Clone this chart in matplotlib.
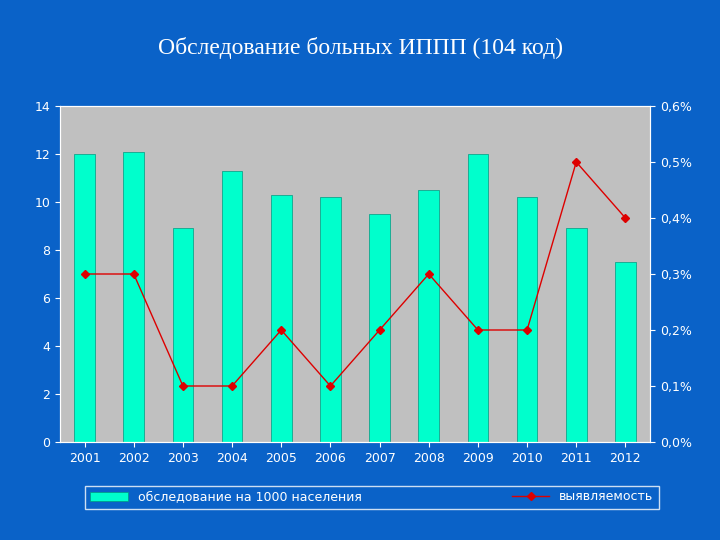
import matplotlib
matplotlib.use("Agg")
import matplotlib.pyplot as plt
from matplotlib.ticker import FuncFormatter

years = ["2001","2002","2003","2004","2005","2006","2007","2008","2009","2010","2011","2012"]
exam = [12.0,12.1,8.9,11.3,10.3,10.2,9.5,10.5,12.0,10.2,8.9,7.5]
detect = [0.3,0.3,0.1,0.1,0.2,0.1,0.2,0.3,0.2,0.2,0.5,0.4]

bg = "#0a62c8"
fig = plt.figure(figsize=(7.2,5.4), dpi=100, facecolor=bg)
ax = fig.add_axes([60/720, 1-442/540, 590/720, 336/540])
ax.set_facecolor("#c0c0c0")
x = range(len(years))
ax.bar(x, exam, width=0.42, color="#00ffcc", edgecolor="#009980", linewidth=0.5, zorder=2, label="обследование на 1000 населения")
ax.set_ylim(0,14); ax.set_xlim(-0.5,11.5)
ax.set_yticks(range(0,15,2))
ax.set_xticks(list(x)); ax.set_xticklabels(years)
for s in ax.spines.values(): s.set_color("white")
ax.tick_params(colors="white", labelsize=9)
ax2 = ax.twinx()
ax2.plot(x, detect, color="#dd0000", marker="D", markersize=4, linewidth=1, zorder=3, label="выявляемость")
ax2.set_ylim(0,0.6); ax2.set_yticks([0,0.1,0.2,0.3,0.4,0.5,0.6])
ax2.yaxis.set_major_formatter(FuncFormatter(lambda v,p: f"{v:.1f}%".replace(".",",")))
ax2.tick_params(colors="white", labelsize=9)
for s in ax2.spines.values(): s.set_color("white")
fig.text(0.5, 1-48/540, "Обследование больных ИППП (104 код)", ha="center", va="center",
         color="white", fontsize=17, family="Liberation Serif")
h1,l1 = ax.get_legend_handles_labels(); h2,l2 = ax2.get_legend_handles_labels()
leg = fig.legend(h1+h2, l1+l2, loc="center", bbox_to_anchor=(372/720, 1-497/540), ncol=2,
                 frameon=True, fontsize=9, columnspacing=12, fancybox=False,
                 borderpad=0.4, handlelength=3)
leg.get_frame().set_facecolor(bg); leg.get_frame().set_edgecolor("white")
for t in leg.get_texts(): t.set_color("white")
fig.savefig("out.png", dpi=100, facecolor=bg)
